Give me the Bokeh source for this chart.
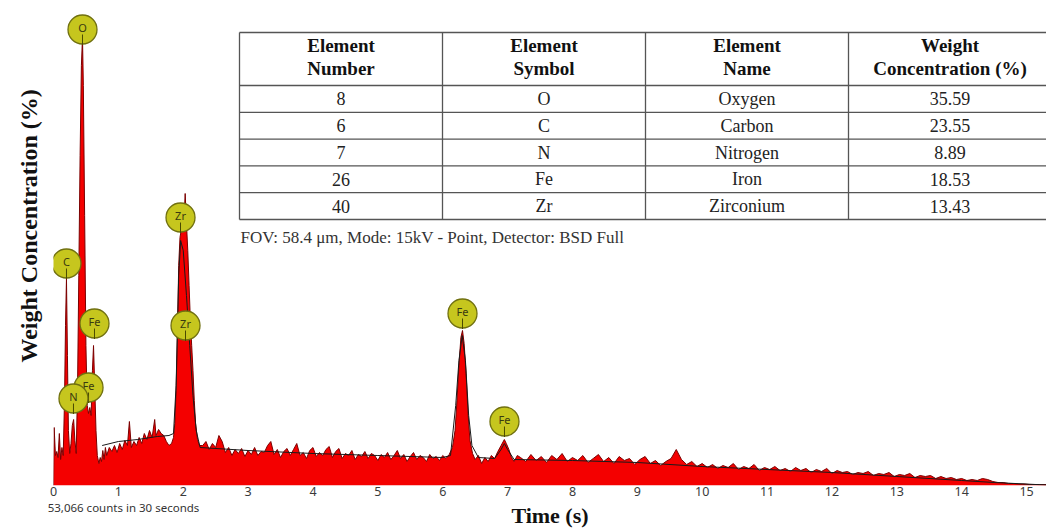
import math
from bokeh.plotting import figure
from bokeh.models import Range1d, Label, FixedTicker, ColumnDataSource, LinearAxis, Title
from bokeh.embed import file_html
from bokeh.resources import INLINE
from bokeh.core.properties import value

# ---------------- spectrum (energy axis labelled "Time (s)") ----------------
e_low = [0.00, 0.01, 0.03, 0.05, 0.07, 0.09, 0.11, 0.13, 0.15, 0.17, 0.185, 0.20, 0.215, 0.23,
         0.25, 0.27, 0.29, 0.31, 0.33, 0.35, 0.37, 0.39, 0.41, 0.43, 0.447, 0.46, 0.48, 0.50,
         0.52, 0.54, 0.56, 0.58, 0.60, 0.617, 0.635, 0.655, 0.675, 0.70, 0.72, 0.74, 0.76, 0.78, 0.80]
c_low = [0, 58, 30, 34, 28, 52, 26, 38, 30, 85, 160, 207, 130, 55,
         32, 42, 60, 66, 45, 32, 95, 210, 330, 420, 448, 400, 270, 140,
         80, 72, 78, 70, 115, 140, 100, 55, 30, 22, 28, 24, 35, 26, 38]

e_bg1 = [0.82, 0.86, 0.90, 0.94, 0.98, 1.02, 1.06, 1.10, 1.14, 1.17, 1.20, 1.24, 1.28, 1.32,
         1.36, 1.40, 1.44, 1.48, 1.52, 1.56, 1.58, 1.62, 1.66, 1.70, 1.74, 1.78]
c_bg1 = [30, 38, 34, 40, 33, 42, 36, 45, 40, 64, 38, 44, 40, 48,
         42, 52, 46, 55, 48, 66, 50, 56, 52, 50, 44, 40]

e_zr = [1.82, 1.85, 1.87, 1.89, 1.91, 1.93, 1.95, 1.97, 1.99, 2.01, 2.03, 2.05, 2.07, 2.09,
        2.11, 2.13, 2.15, 2.17, 2.19, 2.22, 2.25]
c_zr = [42, 48, 62, 95, 150, 220, 248, 256, 254, 262, 292, 262, 235, 200,
        165, 140, 115, 85, 62, 46, 40]

e_bg2 = [2.30, 2.35, 2.40, 2.45, 2.50, 2.55, 2.60, 2.65, 2.70, 2.75, 2.80, 2.85, 2.90, 2.95,
         3.00, 3.05, 3.10, 3.15, 3.20, 3.25, 3.30, 3.35, 3.40, 3.45, 3.50, 3.55, 3.60, 3.65,
         3.70, 3.75, 3.80, 3.85, 3.90, 3.95, 4.00, 4.05, 4.10, 4.15, 4.20, 4.25, 4.30, 4.35,
         4.40, 4.45, 4.50, 4.55, 4.60, 4.65, 4.70, 4.75, 4.80, 4.85, 4.90, 4.95, 5.00, 5.05,
         5.10, 5.15, 5.20, 5.25, 5.30, 5.35, 5.40, 5.45, 5.50, 5.55, 5.60, 5.65, 5.70, 5.75,
         5.80, 5.85, 5.90, 5.95, 6.00, 6.05, 6.10]
c_bg2 = [40, 44, 36, 42, 38, 50, 44, 33, 38, 30, 36, 32, 37, 29,
         35, 31, 38, 30, 34, 33, 40, 44, 31, 36, 28, 34, 37, 30,
         36, 42, 30, 33, 27, 35, 38, 29, 33, 30, 36, 39, 28, 34,
         37, 27, 32, 30, 35, 26, 31, 29, 34, 27, 32, 30, 25, 31,
         28, 33, 26, 30, 35, 27, 31, 24, 29, 33, 26, 30, 28, 24,
         31, 27, 29, 25, 30, 27, 31]

e_fe = [6.15, 6.19, 6.22, 6.25, 6.28, 6.305, 6.33, 6.36, 6.39, 6.42, 6.46, 6.50, 6.55, 6.60,
        6.65, 6.70, 6.75, 6.80, 6.85, 6.90, 6.95, 6.98, 7.02, 7.06, 7.10, 7.15]
c_fe = [38, 55, 85, 120, 148, 155, 142, 112, 72, 45, 32, 26, 30, 22,
        28, 24, 30, 27, 34, 40, 46, 42, 36, 28, 24, 30]

e_bg3 = [7.20, 7.28, 7.36, 7.44, 7.52, 7.60, 7.68, 7.76, 7.84, 7.92, 8.00, 8.08, 8.16, 8.24,
         8.32, 8.40, 8.48, 8.56, 8.64, 8.72, 8.80, 8.88, 8.96, 9.04, 9.12, 9.20, 9.28, 9.36,
         9.44, 9.52, 9.60, 9.68, 9.76, 9.84, 9.92, 10.00, 10.08, 10.16, 10.24, 10.32, 10.40,
         10.48, 10.56, 10.64, 10.72, 10.80, 10.88, 10.96, 11.04, 11.12, 11.20, 11.28, 11.36,
         11.44, 11.52, 11.60, 11.68, 11.76, 11.84, 11.92, 12.00, 12.08, 12.16, 12.24, 12.32,
         12.40, 12.48, 12.56, 12.64, 12.72, 12.80, 12.88, 12.96, 13.04, 13.12, 13.20, 13.28,
         13.36, 13.44, 13.52, 13.60, 13.68, 13.76, 13.84, 13.92, 14.00, 14.08, 14.16, 14.24,
         14.32, 14.40, 14.48, 14.56, 14.64, 14.72, 14.80, 14.88, 14.96, 15.04, 15.12, 15.20, 15.30]
c_bg3 = [28, 24, 31, 25, 29, 23, 30, 26, 32, 24, 28, 25, 30, 23,
         27, 31, 24, 28, 22, 29, 25, 27, 21, 26, 29, 22, 25, 20,
         24, 27, 36, 26, 21, 24, 19, 22, 18, 21, 17, 20, 18,
         22, 16, 19, 17, 21, 15, 18, 16, 19, 15, 17, 14,
         18, 15, 17, 13, 16, 14, 17, 12, 15, 13, 14, 11,
         13, 12, 14, 10, 12, 11, 13, 9, 11, 10, 12, 8,
         10, 9, 10, 7, 9, 7, 8, 6, 7, 5, 6, 5,
         7, 6, 4, 3, 3, 2, 2, 1.5, 1.5, 1, 1, 1, 1]

# fitted (black) trace
fit_e = [0.75, 1.00, 1.30, 1.60, 1.78, 1.85, 1.89, 1.93, 1.96, 2.00, 2.05, 2.10, 2.15, 2.20,
         2.26, 3.00, 4.00, 5.00, 6.00, 6.12, 6.20, 6.25, 6.30, 6.35, 6.40, 6.45, 6.55, 6.80,
         6.90, 6.95, 7.00, 7.10, 8.00, 9.00, 10.00, 11.00, 12.00, 13.00, 14.00, 14.50, 15.30]
fit_c = [40, 44, 46, 49, 50, 52, 100, 210, 245, 235, 190, 140, 90, 55,
         38, 35, 32, 30, 28, 30, 80, 125, 150, 125, 70, 40, 28, 27,
         36, 42, 36, 26, 25, 23, 19, 16, 13, 9, 5, 3, 0.5]

# peak identification markers
peak_sym = ["O", "C", "Fe", "Fe", "N", "Zr", "Zr", "Fe", "Fe"]
peak_e = [0.447, 0.20, 0.632, 0.54, 0.308, 1.958, 2.035, 6.305, 6.952]
peak_c = [456, 222, 162, 98, 87, 268, 160, 172, 64]

# results table
tbl_header_1 = ["Element", "Element", "Element", "Weight"]
tbl_header_2 = ["Number", "Symbol", "Name", "Concentration (%)"]
elem_number = ["8", "6", "7", "26", "40"]
elem_symbol = ["O", "C", "N", "Fe", "Zr"]
elem_name = ["Oxygen", "Carbon", "Nitrogen", "Iron", "Zirconium"]
weight_conc = ["35.59", "23.55", "8.89", "18.53", "13.43"]

x_ticks = list(range(16))
counts_note = "53,066 counts in 30 seconds"

# ---------------- layout ----------------
W, H = 1046, 530
LEFT, BOTTOM, TOP, RIGHT = 53, 45, 0, 0
FRAME_W = W - LEFT - RIGHT
FRAME_H = H - BOTTOM - TOP
PX_PER_E = 64.87
X_END = FRAME_W / PX_PER_E

def sx(px):  # screen px -> data x
    return (px - LEFT) / PX_PER_E

def sy(py):  # screen py -> data y
    return FRAME_H - py

p = figure(width=W, height=H, output_backend="svg", toolbar_location=None,
           x_range=Range1d(0, X_END), y_range=Range1d(0, FRAME_H),
           min_border_left=LEFT, min_border_right=RIGHT, min_border_top=TOP,
           min_border_bottom=BOTTOM)
p.outline_line_color = None
p.xgrid.visible = False
p.ygrid.visible = False
p.background_fill_color = "white"
p.border_fill_color = "white"

# x axis: tick labels
ax = p.xaxis[0]
ax.ticker = FixedTicker(ticks=x_ticks)
ax.axis_line_color = None
ax.major_tick_line_color = None
ax.minor_tick_line_color = None
ax.major_tick_out = 0
ax.major_label_standoff = 1
ax.major_label_text_font = "Noto Sans"
ax.major_label_text_font_size = "12.5px"
ax.major_label_text_color = "#3a3a3a"

# second bottom axis: counts note + axis title
note_x = round(sx(123), 4)
ax2 = LinearAxis(ticker=FixedTicker(ticks=[note_x]), major_label_overrides={note_x: counts_note},
                 axis_line_color=None, major_tick_line_color=None, minor_tick_line_color=None,
                 major_tick_out=0, major_label_standoff=1,
                 major_label_text_font="Noto Sans", major_label_text_font_size="11.5px",
                 major_label_text_color="#333333",
                 axis_label="Time (s)", axis_label_standoff=-15,
                 axis_label_text_font="Liberation Serif", axis_label_text_font_style="bold",
                 axis_label_text_font_size="22px", axis_label_text_color="#111111")
p.add_layout(ax2, "below")

# y axis title
p.yaxis.visible = False
ytitle = Title(text="Weight Concentration (%)", align="left", offset=123,
               text_font="Liberation Serif", text_font_style="bold",
               text_font_size="24px", text_color="#111111")
if "standoff" in Title.properties():
    ytitle.standoff = 24
p.add_layout(ytitle, "left")

energy = e_low + e_bg1 + e_zr + e_bg2 + e_fe + e_bg3
counts = c_low + c_bg1 + c_zr + c_bg2 + c_fe + c_bg3

p.varea(x=energy, y1=[0] * len(energy), y2=counts, fill_color="#f40000")
p.line(energy, counts, line_color="#7a0000", line_width=1)
p.line(fit_e, fit_c, line_color="#1a1a1a", line_width=1)

# peak markers
R = 14.5
for i in range(len(peak_sym)):
    s = ColumnDataSource(dict(x=[peak_e[i]], y=[peak_c[i]], t=[peak_sym[i]],
                              y0=[peak_c[i] - 5], y1=[peak_c[i] - R - 1], ty=[peak_c[i] + 2]))
    p.scatter("x", "y", source=s, size=2 * R, fill_color="#c6c61e",
              line_color="#707010", line_width=1.3)
    p.segment("x", "y0", "x", "y1", source=s, line_color="#4a4a00", line_width=1)
    p.text("x", "ty", text="t", source=s, text_font=value("Noto Sans"),
           text_font_size="11px", text_color="#3a3a10", text_align="center",
           text_baseline="middle")

# table
T_LEFT, COL_W, T_TOP, HEAD_H, ROW_H = 239, 203, 32, 53, 26.8
n_rows = len(elem_number)
cols = [elem_number, elem_symbol, elem_name, weight_conc]
h_lines = [T_TOP, T_TOP + HEAD_H] + [T_TOP + HEAD_H + ROW_H * (i + 1) for i in range(n_rows)]
v_lines = [T_LEFT + COL_W * j for j in range(5)]
p.segment(x0=[sx(T_LEFT)] * len(h_lines), y0=[sy(v) for v in h_lines],
          x1=[sx(T_LEFT + COL_W * 4)] * len(h_lines), y1=[sy(v) for v in h_lines],
          line_color="#555555", line_width=1.3)
p.segment(x0=[sx(v) for v in v_lines], y0=[sy(T_TOP)] * 5,
          x1=[sx(v) for v in v_lines], y1=[sy(h_lines[-1])] * 5,
          line_color="#555555", line_width=1.3)

cx = [sx(T_LEFT + COL_W * (j + 0.5)) for j in range(4)]
p.text(x=cx, y=[sy(T_TOP + 13)] * 4, text=tbl_header_1, text_font=value("Liberation Serif"),
       text_font_style="bold", text_font_size="19px", text_color="#111111",
       text_align="center", text_baseline="middle")
p.text(x=cx, y=[sy(T_TOP + 36)] * 4, text=tbl_header_2, text_font=value("Liberation Serif"),
       text_font_style="bold", text_font_size="19px", text_color="#111111",
       text_align="center", text_baseline="middle")
for j, col in enumerate(cols):
    p.text(x=[cx[j]] * n_rows,
           y=[sy(T_TOP + HEAD_H + ROW_H * (i + 0.5)) for i in range(n_rows)],
           text=col, text_font=value("Liberation Serif"), text_font_size="18px",
           text_color="#222222", text_align="center", text_baseline="middle")

p.add_layout(Label(x=sx(240), y=sy(237), text="FOV: 58.4 \u03bcm, Mode: 15kV - Point, Detector: BSD Full",
                   text_font="Liberation Serif", text_font_size="17px", text_color="#333333",
                   text_align="left", text_baseline="middle"))

open("out.html", "w").write(file_html(p, INLINE))
